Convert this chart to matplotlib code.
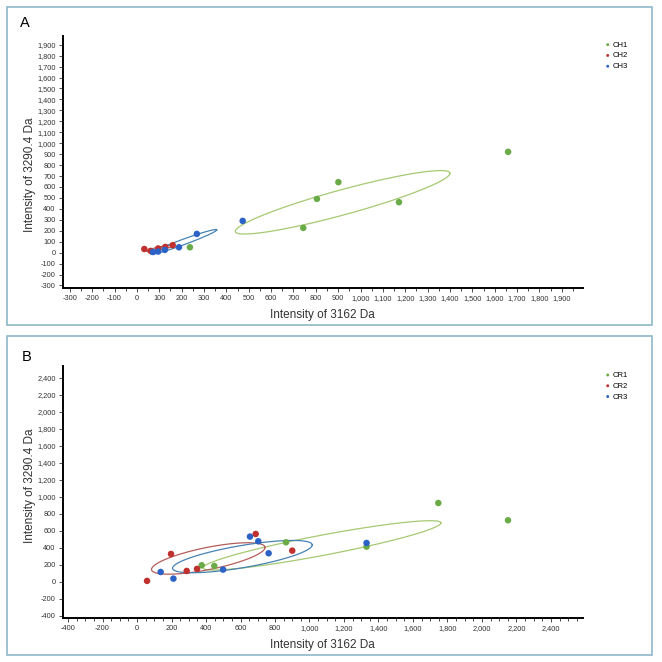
import numpy as np
import matplotlib
matplotlib.use("Agg")
import matplotlib.pyplot as plt
from matplotlib.patches import Rectangle
from matplotlib.ticker import FuncFormatter, MultipleLocator

# ---------- datos panel A ----------
ch1_x = [237, 744, 805, 901, 1172, 1660]
ch1_y = [49, 226, 491, 644, 461, 921]
ch2_x = [33, 61, 95, 127, 160]
ch2_y = [33, 16, 38, 52, 68]
ch3_x = [473, 268, 188, 125, 95, 72]
ch3_y = [290, 171, 49, 25, 10, 6]
# elipses: (cx, ax, cy, ay, phi)
elip_a = {"CH1": (920, 480, 460, 290, 0.42),
          "CH2": (105, 62, 40, 30, 0.5),
          "CH3": (209, 148, 98, 113, 0.237)}

# ---------- datos panel B ----------
cr1_x = [375, 448, 864, 1331, 1747, 2151]
cr1_y = [196, 188, 466, 415, 928, 725]
cr2_x = [58, 197, 288, 348, 688, 900]
cr2_y = [12, 329, 129, 153, 564, 368]
cr3_x = [137, 211, 499, 655, 703, 763, 1331]
cr3_y = [117, 39, 145, 533, 478, 337, 458]
elip_b = {"CR1": (1072, 690, 430, 290, 0.43),
          "CR2": (413, 329, 276, 185, 0.8),
          "CR3": (611, 405, 298, 190, 0.77)}

COL_PT = {"1": "#6aab48", "2": "#c0302e", "3": "#2c62c6"}
COL_EL = {"1": "#a6c972", "2": "#b55e5a", "3": "#4683b3"}
BORDER = "#8db7c9"

plt.rcParams.update({"font.family": "sans-serif",
                     "font.sans-serif": ["Liberation Sans", "DejaVu Sans"]})

fig = plt.figure(figsize=(6.62, 6.62), dpi=100)
fig.patch.set_facecolor("white")

fmt = FuncFormatter(lambda v, p: f"{int(round(v)):,}")


def panel(rect, series, elipses, xlim, ylim, step, minor, ylab_y):
    ax = fig.add_axes(rect)
    t = np.linspace(0, 2 * np.pi, 300)
    for name, (cx, axx, cy, ayy, phi) in elipses.items():
        ax.plot(cx + axx * np.cos(t), cy + ayy * np.cos(t - phi),
                color=COL_EL[name[-1]], lw=0.9, zorder=2)
    for name, xs, ys in series:
        ax.scatter(xs, ys, s=22, color=COL_PT[name[-1]], edgecolors="none",
                   zorder=3, label=name)
    ax.set_xlim(*xlim)
    ax.set_ylim(*ylim)
    ax.xaxis.set_major_locator(MultipleLocator(step))
    ax.yaxis.set_major_locator(MultipleLocator(step))
    ax.xaxis.set_minor_locator(MultipleLocator(minor))
    ax.xaxis.set_major_formatter(fmt)
    ax.yaxis.set_major_formatter(fmt)
    for s in ["top", "right"]:
        ax.spines[s].set_visible(False)
    for s in ["left", "bottom"]:
        ax.spines[s].set_linewidth(1.4)
    ax.tick_params(labelsize=5.3, colors="#333333", length=3, width=0.6, pad=2)
    ax.tick_params(which="minor", length=2, width=0.5)
    ax.set_xlabel("Intensity of 3162 Da", fontsize=8.5, color="#333333", labelpad=5)
    ax.set_ylabel("Intensity of 3290.4 Da", fontsize=8.5, color="#333333")
    ax.yaxis.set_label_coords(-0.052, ylab_y)
    ax.legend(loc="upper left", bbox_to_anchor=(1.035, 0.99), frameon=False,
              fontsize=5.5, markerscale=0.45, handlelength=0.9, handletextpad=0.2,
              labelspacing=0.45, borderaxespad=0)
    return ax


panel([0.0947, 0.565, 0.786, 0.381],
      [("CH1", ch1_x, ch1_y), ("CH2", ch2_x, ch2_y), ("CH3", ch3_x, ch3_y)],
      elip_a, (-332, 1995), (-323, 1982), 100, 50, 0.45)
panel([0.0947, 0.067, 0.786, 0.380],
      [("CR1", cr1_x, cr1_y), ("CR2", cr2_x, cr2_y), ("CR3", cr3_x, cr3_y)],
      elip_b, (-431, 2586), (-420, 2538), 200, 50, 0.525)

fig.add_artist(Rectangle((7 / 662, 1 - 325 / 662), 645 / 662, 318 / 662,
                         transform=fig.transFigure, fill=False, ec=BORDER, lw=1.2))
fig.add_artist(Rectangle((7 / 662, 1 - 655 / 662), 645 / 662, 319 / 662,
                         transform=fig.transFigure, fill=False, ec=BORDER, lw=1.2))
fig.text(20 / 662, 1 - 23 / 662, "A", fontsize=10.5, va="center", ha="left")
fig.text(22 / 662, 1 - 357 / 662, "B", fontsize=10.5, va="center", ha="left")

fig.savefig("out.png", dpi=100)
